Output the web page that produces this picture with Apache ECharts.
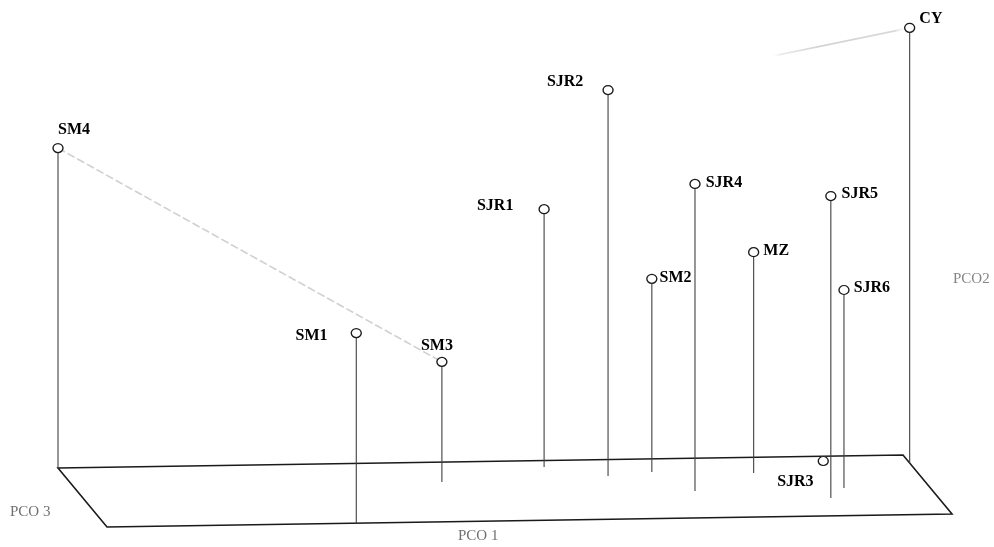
<!DOCTYPE html>
<html>
<head>
<meta charset="utf-8">
<script src="https://cdn.jsdelivr.net/npm/echarts@6/dist/echarts.min.js"></script>
<style>
  html, body { margin: 0; padding: 0; background: #ffffff; }
  #chart { width: 994px; height: 547px; }
</style>
</head>
<body>
<div id="chart"></div>
<script>
// Principal coordinates of each sample (scaled to the floor box)
const samples = ['SM4', 'SM1', 'SM3', 'SJR1', 'SJR2', 'SM2', 'SJR4', 'MZ', 'SJR5', 'SJR6', 'CY', 'SJR3'];
const pco1 = [0.000, 0.295, 0.435, 0.569, 0.635, 0.690, 0.722, 0.808, 0.874, 0.899, 1.000, 0.901];
const pco2 = [0.727, 0.432, 0.273, 0.586, 0.877, 0.439, 0.698, 0.502, 0.686, 0.450, 0.989, 0.000];
const pco3 = [0.000, 1.000, 0.333, 0.108, 0.275, 0.220, 0.549, 0.263, 0.700, 0.537, 0.136, 0.080];

// Extent of the PCO1 x PCO3 floor
const pco1Range = [0, 1];
const pco3Range = [0, 1];

// Connector lines between sample tops
const links = [['SM4', 'SM3'], ['CY', 'SJR2']];

// Axis titles
const axisTitles = { pco1: 'PCO 1', pco2: 'PCO2', pco3: 'PCO 3' };

// Oblique projection of (PCO1, PCO2, PCO3) onto the drawing plane
const DEPTH_X = 49 / 845;
const RISE_X = 13 / 440;
const DEPTH_Y = 59 / 440;
function project(a, b, c) {
  return [a + DEPTH_X * c, b + RISE_X * a - DEPTH_Y * c];
}

// Label placement for each sample
const labelPlacement = {
  SM4:  { position: 'top',    distance: 5,  offset: [16, 0] },
  SM1:  { position: 'left',   distance: 23, offset: [0, 3] },
  SM3:  { position: 'top',    distance: 3,  offset: [-5, 0] },
  SJR1: { position: 'left',   distance: 25, offset: [0, -3] },
  SJR2: { position: 'left',   distance: 19, offset: [0, -8] },
  SM2:  { position: 'right',  distance: 2,  offset: [0, -1] },
  SJR4: { position: 'right',  distance: 5,  offset: [0, -1] },
  MZ:   { position: 'right',  distance: 4,  offset: [0, -1] },
  SJR5: { position: 'right',  distance: 5,  offset: [0, -2] },
  SJR6: { position: 'right',  distance: 4,  offset: [0, -2] },
  CY:   { position: 'right',  distance: 4,  offset: [0, -9] },
  SJR3: { position: 'left',   distance: 4,  offset: [0, 21] }
};

const chart = echarts.init(document.getElementById('chart'), null, { renderer: 'canvas' });

const sampleData = samples.map((s, i) => [pco1[i], pco2[i], pco3[i]]);

const topPoints = samples.map((s, i) => {
  const p = labelPlacement[s];
  return {
    name: s,
    value: project(pco1[i], pco2[i], pco3[i]),
    label: { position: p.position, distance: p.distance, offset: p.offset }
  };
});

const option = {
  backgroundColor: '#ffffff',
  animation: false,
  grid: { left: 0, right: 0, top: 0, bottom: 0 },
  xAxis: { type: 'value', min: -58 / 845, max: 936 / 845, show: false },
  yAxis: { type: 'value', min: (468 - 547) / 440, max: 468 / 440, show: false },
  graphic: [
    { type: 'text', left: 458, top: 529,
      style: { text: axisTitles.pco1, font: '15px "Liberation Serif", serif', fill: '#707070' } },
    { type: 'text', left: 953, top: 272,
      style: { text: axisTitles.pco2, font: '15px "Liberation Serif", serif', fill: '#858585' } },
    { type: 'text', left: 10, top: 505,
      style: { text: axisTitles.pco3, font: '15px "Liberation Serif", serif', fill: '#707070' } }
  ],
  series: [
    {
      // floor parallelogram (PCO1 x PCO3 plane)
      type: 'custom',
      z: 1,
      silent: true,
      data: [[0]],
      renderItem: function (params, api) {
        const corners = [
          [pco1Range[0], pco3Range[0]],
          [pco1Range[1], pco3Range[0]],
          [pco1Range[1], pco3Range[1]],
          [pco1Range[0], pco3Range[1]]
        ].map(c => api.coord(project(c[0], 0, c[1])));
        return {
          type: 'polygon',
          shape: { points: corners },
          style: { fill: 'rgba(0,0,0,0)', stroke: '#1a1a1a', lineWidth: 1.6 }
        };
      }
    },
    {
      // connectors between sample tops
      type: 'custom',
      z: 2,
      silent: true,
      data: links.map((l, k) => [k]),
      renderItem: function (params, api) {
        const k = params.dataIndex;
        const ia = samples.indexOf(links[k][0]);
        const ib = samples.indexOf(links[k][1]);
        const a = api.coord(project(pco1[ia], pco2[ia], pco3[ia]));
        const b = api.coord(project(pco1[ib], pco2[ib], pco3[ib]));
        let stroke = '#d0d0d0';
        let dash = [8, 3];
        if (k === 1) {
          stroke = new echarts.graphic.LinearGradient(a[0], a[1], b[0], b[1], [
            { offset: 0, color: 'rgba(255,255,255,0)' },
            { offset: 0.05, color: 'rgba(200,200,200,0.7)' },
            { offset: 0.3, color: 'rgba(195,195,195,0.75)' },
            { offset: 0.43, color: 'rgba(215,215,215,0.5)' },
            { offset: 0.46, color: 'rgba(255,255,255,0)' },
            { offset: 1, color: 'rgba(255,255,255,0)' }
          ], true);
          dash = null;
        }
        return {
          type: 'line',
          shape: { x1: a[0], y1: a[1], x2: b[0], y2: b[1] },
          style: { stroke: stroke, lineWidth: 1.6, lineDash: dash }
        };
      }
    },
    {
      // vertical drop lines from each sample to the floor
      type: 'custom',
      z: 3,
      silent: true,
      data: sampleData,
      renderItem: function (params, api) {
        const a = api.value(0), b = api.value(1), c = api.value(2);
        const top = api.coord(project(a, b, c));
        const bottom = api.coord(project(a, 0, c));
        return {
          type: 'line',
          shape: { x1: top[0], y1: top[1] + 4, x2: bottom[0], y2: bottom[1] },
          style: { stroke: '#404040', lineWidth: 1.1 }
        };
      }
    },
    {
      // sample markers and names
      type: 'scatter',
      z: 4,
      data: topPoints,
      symbol: 'circle',
      symbolSize: [10, 9],
      itemStyle: { color: '#ffffff', borderColor: '#1a1a1a', borderWidth: 1.3, opacity: 1 },
      label: {
        show: true,
        formatter: '{b}',
        color: '#000000',
        textBorderWidth: 0,
        opacity: 1,
        fontFamily: '"Liberation Serif", serif',
        fontWeight: 'bold',
        fontSize: 16
      }
    }
  ]
};

chart.setOption(option);
</script>
</body>
</html>
